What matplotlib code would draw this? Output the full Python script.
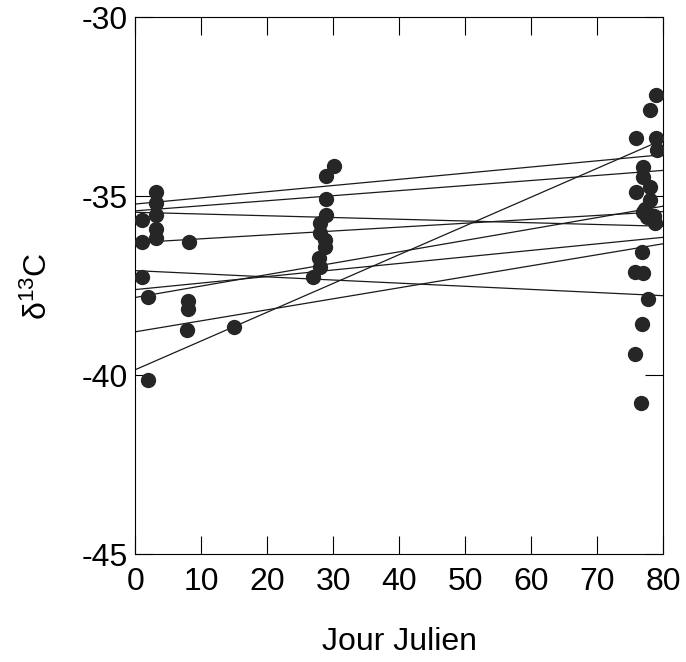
import numpy as np
import matplotlib
matplotlib.use('Agg')
import matplotlib.pyplot as plt
from matplotlib import rc

# Julian day and delta 13C values of the samples
days = [3.2, 3.2, 3.2, 1.0, 3.2, 3.2, 1.0, 8.1, 1.0, 1.9, 8.0, 8.0, 7.9, 15.0, 1.9,
        30.2, 29.0, 29.0, 29.0, 28.0, 28.0, 28.8, 28.8, 27.9, 28.0, 27.0,
        79.0, 78.0, 75.9, 79.0, 79.1, 76.9, 76.9, 78.0, 75.9, 78.0, 77.0, 77.6,
        78.8, 76.8, 75.8, 76.9, 77.7, 76.8, 75.8, 76.7, 77.3, 78.6]
d13c = [-34.88, -35.2, -35.53, -35.67, -35.92, -36.17, -36.28, -36.28, -37.25,
        -37.81, -37.92, -38.14, -38.74, -38.65, -40.14,
        -34.16, -34.44, -35.09, -35.53, -35.76, -36.04, -36.23, -36.42, -36.74,
        -36.97, -37.25,
        -32.18, -32.6, -33.38, -33.38, -33.72, -34.19, -34.47, -34.75, -34.89,
        -35.11, -35.45, -35.59, -35.75, -36.56, -37.12, -37.15, -37.88, -38.58,
        -39.41, -40.78, -35.35, -35.55]

# regression lines: value at day 0 and at day 80
line_start = [-35.22, -35.41, -36.30, -35.45, -37.08, -37.61, -37.83, -38.79, -39.85]
line_end = [-33.84, -34.28, -35.43, -35.84, -37.78, -36.15, -35.28, -36.33, -33.42]

xticks = [0, 10, 20, 30, 40, 50, 60, 70, 80]
yticks = [-45, -40, -35, -30]

rc('font', family=['Liberation Sans', 'DejaVu Sans'], size=23)
rc('mathtext', default='regular')

fig = plt.figure(figsize=(6.86, 6.62), dpi=100)
ax = fig.add_axes([0.197, 0.163, 0.7695, 0.811])

for y0, y1 in zip(line_start, line_end):
    ax.plot([0, 80], [y0, y1], color='#1a1a1a', lw=0.9, zorder=2)

ax.plot(days, d13c, 'o', color='#262626', markersize=10, zorder=3)

ax.set_xlim(0, 80)
ax.set_ylim(-45, -30)
ax.set_xticks(xticks)
ax.set_yticks(yticks)
ax.set_yticklabels([str(t) for t in yticks])
ax.tick_params(direction='in', length=13, width=0.8, top=True, right=True,
               labelsize=23)
ax.tick_params(axis='x', pad=9)
ax.tick_params(axis='y', pad=5)
for s in ax.spines.values():
    s.set_linewidth(0.8)

ax.set_xlabel('Jour Julien', fontsize=23, labelpad=22)
ax.set_ylabel(r'$\delta^{13}$C', fontsize=23, labelpad=20)

fig.savefig('out.png', dpi=100)
